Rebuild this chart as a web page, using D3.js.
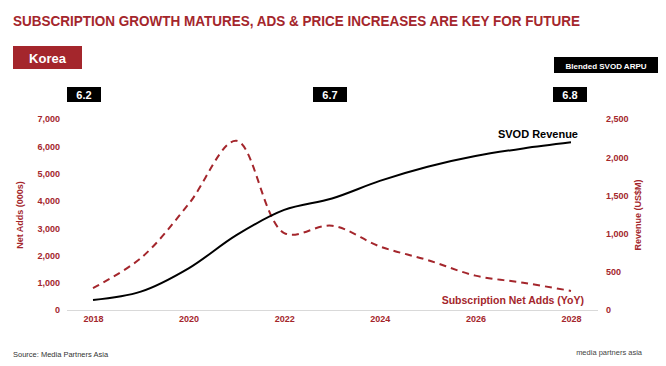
<!DOCTYPE html>
<html><head><meta charset="utf-8">
<script src="https://cdn.jsdelivr.net/npm/d3@7"></script>
<style>
html,body{margin:0;padding:0;background:#fff;}
svg{display:block;font-family:"Liberation Sans",Arial,sans-serif;}
</style></head>
<body>
<svg id="c" width="666" height="366"></svg>
<script>
const years = [2018,2019,2020,2021,2022,2023,2024,2025,2026,2027,2028];
const netAdds = [800,1900,3880,6200,2820,3090,2330,1830,1260,1000,700];
const revenue = [130,240,545,980,1310,1460,1690,1875,2015,2115,2195];
const xTicks = [2018,2020,2022,2024,2026,2028];
const leftTicks = [0,1000,2000,3000,4000,5000,6000,7000];
const rightTicks = [0,500,1000,1500,2000,2500];
const arpuLabels = [{year:2018,label:"6.2"},{year:2023,label:"6.7"},{year:2028,label:"6.8"}];

const RED = "#a4262c";
const svg = d3.select("#c");

// Title
svg.append("text").attr("x",13).attr("y",26).attr("fill",RED)
  .attr("font-size",15).attr("font-weight","bold")
  .attr("textLength",567).attr("lengthAdjust","spacingAndGlyphs")
  .text("SUBSCRIPTION GROWTH MATURES, ADS & PRICE INCREASES ARE KEY FOR FUTURE");

// Korea box
svg.append("rect").attr("x",13).attr("y",46).attr("width",69).attr("height",23).attr("fill",RED);
svg.append("text").attr("x",47.5).attr("y",62.5).attr("text-anchor","middle").attr("fill","#fff")
  .attr("font-size",13).attr("font-weight","bold").text("Korea");

const x = d3.scaleLinear().domain([2018,2028]).range([93,571]);
const yL = d3.scaleLinear().domain([0,7000]).range([310,119]);
const yR = d3.scaleLinear().domain([0,2500]).range([310,119]);

// baseline
svg.append("line").attr("x1",67).attr("x2",598).attr("y1",310.5).attr("y2",310.5)
  .attr("stroke","#d9d9d9").attr("stroke-width",1);

// Left axis
const gl = svg.append("g").attr("transform","translate(60,0)")
  .call(d3.axisLeft(yL).tickValues(leftTicks).tickSize(0).tickPadding(0).tickFormat(d3.format(",")));
gl.select(".domain").remove();
gl.selectAll("text").attr("fill",RED).attr("font-size",9).attr("font-weight","bold")
  .attr("font-family","Liberation Sans, Arial, sans-serif");

// Right axis
const gr = svg.append("g").attr("transform","translate(606,0)")
  .call(d3.axisRight(yR).tickValues(rightTicks).tickSize(0).tickPadding(0).tickFormat(d3.format(",")));
gr.select(".domain").remove();
gr.selectAll("text").attr("fill",RED).attr("font-size",9).attr("font-weight","bold")
  .attr("font-family","Liberation Sans, Arial, sans-serif");

// Bottom axis
const gb = svg.append("g").attr("transform","translate(0,316)")
  .call(d3.axisBottom(x).tickValues(xTicks).tickSize(0).tickPadding(0).tickFormat(d3.format("d")));
gb.select(".domain").remove();
gb.selectAll("text").attr("fill",RED).attr("font-size",9).attr("font-weight","bold")
  .attr("font-family","Liberation Sans, Arial, sans-serif");

// Axis titles
svg.append("text").attr("transform","translate(23,215) rotate(-90)").attr("text-anchor","middle")
  .attr("fill",RED).attr("font-size",9).attr("font-weight","bold").text("Net Adds (000s)");
svg.append("text").attr("transform","translate(641,215) rotate(-90)").attr("text-anchor","middle")
  .attr("fill",RED).attr("font-size",9).attr("font-weight","bold").text("Revenue (US$M)");

// Lines
const lineL = d3.line().x((d,i)=>x(years[i])).y(d=>yL(d)).curve(d3.curveCatmullRom.alpha(0.5));
const lineR = d3.line().x((d,i)=>x(years[i])).y(d=>yR(d)).curve(d3.curveCatmullRom.alpha(0.5));
svg.append("path").datum(netAdds).attr("d",lineL).attr("fill","none")
  .attr("stroke",RED).attr("stroke-width",2).attr("stroke-dasharray","7,5");
svg.append("path").datum(revenue).attr("d",lineR).attr("fill","none")
  .attr("stroke","#000").attr("stroke-width",2);

// Series labels
svg.append("text").attr("x",578).attr("y",138).attr("text-anchor","end").attr("fill","#000")
  .attr("font-size",11).attr("font-weight","bold").text("SVOD Revenue");
svg.append("text").attr("x",584).attr("y",304).attr("text-anchor","end").attr("fill",RED)
  .attr("font-size",10.5).attr("font-weight","bold").text("Subscription Net Adds (YoY)");

// ARPU boxes
svg.append("rect").attr("x",554).attr("y",57).attr("width",104).attr("height",16).attr("fill","#000");
svg.append("text").attr("x",606).attr("y",68.5).attr("text-anchor","middle").attr("fill","#fff")
  .attr("font-size",8).attr("font-weight","bold").text("Blended SVOD ARPU");
arpuLabels.forEach(a=>{
  const cx = a.year===2018 ? 84 : a.year===2028 ? 570 : 330;
  svg.append("rect").attr("x",cx-17).attr("y",87).attr("width",34).attr("height",15).attr("fill","#000");
  svg.append("text").attr("x",cx).attr("y",98.5).attr("text-anchor","middle").attr("fill","#fff")
    .attr("font-size",11).attr("font-weight","bold").text(a.label);
});

// Footer
svg.append("text").attr("x",13).attr("y",357).attr("fill","#333").attr("font-size",7.5)
  .text("Source: Media Partners Asia");
svg.append("text").attr("x",642).attr("y",355).attr("text-anchor","end").attr("fill","#444")
  .attr("font-size",7.5).text("media partners asia");
</script>
</body></html>
